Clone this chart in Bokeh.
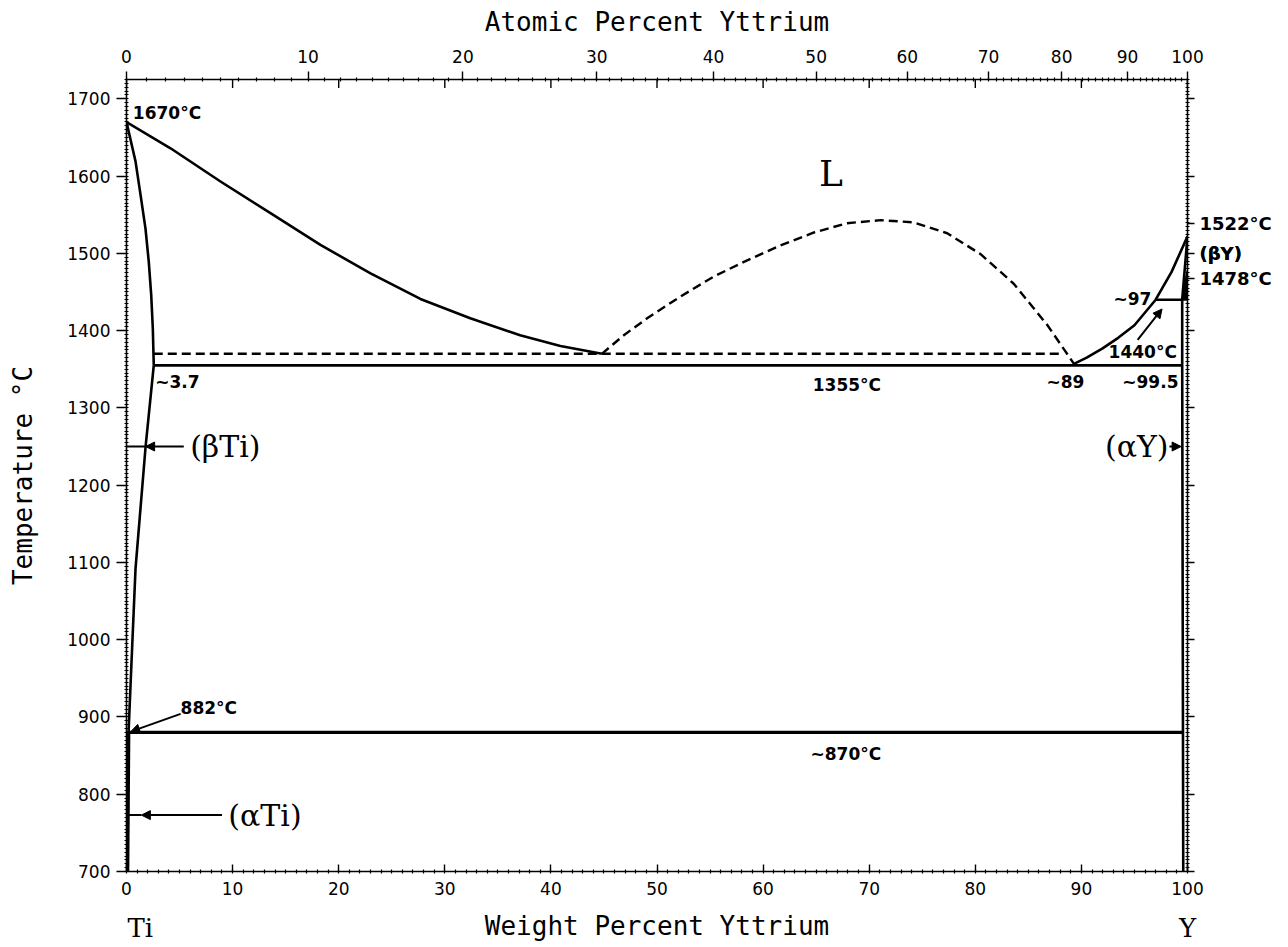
from bokeh.plotting import figure
from bokeh.models import LinearAxis, FixedTicker, Label, Arrow, NormalHead, Range1d
from bokeh.embed import file_html
from bokeh.resources import INLINE

# ---------------- data ----------------
# liquidus, Ti side
liq_left_wt = [0, 4.15, 8.86, 13.57, 18.28, 23.0, 27.7, 32.4, 37.1, 40.9, 44.8]
liq_left_T = [1670, 1636, 1593, 1552, 1511, 1474, 1441, 1416, 1394, 1380, 1370]
# (betaTi) solidus
sol_bti_wt = [0, 0.85, 1.32, 1.79, 2.1, 2.33, 2.48, 2.57]
sol_bti_T = [1670, 1619, 1576, 1532, 1489, 1446, 1403, 1355]
# (betaTi) solvus
solv_bti_wt = [2.57, 1.8, 0.85, 0.38, 0.2]
solv_bti_T = [1355, 1250, 1092, 941, 882]
# (alphaTi) boundary
ati_wt = [0.2, 0.1]
ati_T = [882, 700]
# eutectoid
eutectoid_wt = [0.2, 99.6]
eutectoid_T = [880, 880]
# eutectic
eutectic_wt = [2.57, 99.5]
eutectic_T = [1355, 1355]
# monotectic (dashed)
mono_wt = [2.57, 88.3]
mono_T = [1370, 1370]
# miscibility gap dome (dashed)
dome_wt = [44.8, 46.87, 49.07, 52.2, 55.35, 58.5, 61.6, 64.8, 67.9, 71.1, 74.2, 77.35,
           80.5, 83.6, 86.8, 88.3, 89.3]
dome_T = [1370, 1394, 1416, 1444, 1470, 1491, 1510, 1527, 1539, 1543, 1540, 1526,
          1499, 1461, 1407, 1377, 1357]
# liquidus, Y side
liq_right_wt = [89.3, 90.5, 92.0, 93.5, 95.0, 97.0, 98.5, 100]
liq_right_T = [1357, 1365, 1377, 1391, 1407, 1440, 1476, 1522]
# peritectic
perit_wt = [97.0, 99.5]
perit_T = [1440, 1440]
# (betaY) solidus
sol_by_wt = [99.5, 100]
sol_by_T = [1440, 1522]
# (betaY)+(alphaY) region
bay_wt = [99.5, 100, 100]
bay_T = [1440, 1440, 1478]
# (alphaY) solvus
solv_ay_wt = [99.5, 99.5, 99.6]
solv_ay_T = [1440, 1355, 700]

# axes
wt_ticks = [0, 10, 20, 30, 40, 50, 60, 70, 80, 90, 100]
wt_minor = list(range(0, 101))
at_ticks = [0, 10, 20, 30, 40, 50, 60, 70, 80, 90, 100]
at_labels = ["0", "10", "20", "30", "40", "50", "60", "70", "80", "90", "100"]
at_minor = list(range(0, 101))
T_ticks = [700, 800, 900, 1000, 1100, 1200, 1300, 1400, 1500, 1600, 1700]
T_minor = list(range(700, 1726, 5))

# labels beside the right edge (temperature, text)
right_label_T = [1538, 1500, 1467]
right_label_text = ["1522°C", "(βY)", "1478°C"]
# element labels under the bottom edge (wt%, text)
elem_wt = [1.3, 100]
elem_text = ["Ti", "Y"]

M_Y = 88.906
M_TI = 47.867


def at_to_wt(a):
    return round(100.0 * a * M_Y / (a * M_Y + (100 - a) * M_TI), 6)


at_pos = [at_to_wt(a) for a in at_ticks]
at_minor_pos = [at_to_wt(a) for a in at_minor]

# ---------------- figure ----------------
p = figure(width=1288, height=947, x_range=Range1d(0, 100), y_range=Range1d(700, 1725),
           output_backend="svg", toolbar_location=None,
           x_axis_location=None, y_axis_location=None,
           min_border_left=126, min_border_right=101, min_border_top=79, min_border_bottom=76)
p.grid.visible = False
p.outline_line_color = None
p.background_fill_color = "white"
p.border_fill_color = "white"

TICK_FONT = "DejaVu Sans"
TITLE_FONT = "DejaVu Sans Mono"
SERIF = "DejaVu Serif"


def style_axis(ax):
    ax.axis_line_width = 1.6
    ax.axis_line_color = "black"
    ax.major_tick_line_color = "black"
    ax.major_tick_line_width = 1.4
    ax.minor_tick_line_color = "black"
    ax.minor_tick_line_width = 1.2
    ax.minor_tick_in = 2
    ax.minor_tick_out = 2
    ax.major_label_text_font = TICK_FONT
    ax.major_label_text_font_size = "17px"
    ax.major_label_text_color = "black"
    ax.axis_label_text_font = TITLE_FONT
    ax.axis_label_text_font_size = "26px"
    ax.axis_label_text_font_style = "normal"
    ax.axis_label_text_color = "black"


bottom = LinearAxis(ticker=FixedTicker(ticks=wt_ticks, minor_ticks=wt_minor))
style_axis(bottom)
bottom.major_tick_in = 7
bottom.major_tick_out = 0
bottom.major_label_standoff = 8
p.add_layout(bottom, "below")

# second row under the bottom axis: element names and the axis title
elem_axis = LinearAxis(ticker=FixedTicker(ticks=elem_wt),
                       major_label_overrides={w: t for w, t in zip(elem_wt, elem_text)},
                       axis_label="Weight Percent Yttrium")
style_axis(elem_axis)
elem_axis.axis_line_color = None
elem_axis.major_tick_line_color = None
elem_axis.minor_tick_line_color = None
elem_axis.major_tick_in = 0
elem_axis.major_tick_out = 0
elem_axis.minor_tick_in = 0
elem_axis.minor_tick_out = 0
elem_axis.major_label_text_font = SERIF
elem_axis.major_label_text_font_size = "26px"
elem_axis.major_label_standoff = 15
elem_axis.axis_label_standoff = -35
p.add_layout(elem_axis, "below")

top = LinearAxis(ticker=FixedTicker(ticks=at_pos, minor_ticks=at_minor_pos),
                 axis_label="Atomic Percent Yttrium",
                 major_label_overrides={pos: lab for pos, lab in zip(at_pos, at_labels)})
style_axis(top)
top.major_tick_in = 0
top.major_tick_out = 8
top.major_label_standoff = 9
top.axis_label_standoff = 10
p.add_layout(top, "above")

left = LinearAxis(ticker=FixedTicker(ticks=T_ticks, minor_ticks=T_minor),
                  axis_label="Temperature °C")
style_axis(left)
left.major_tick_in = 0
left.major_tick_out = 10
left.major_label_standoff = 6
left.axis_label_standoff = 26
p.add_layout(left, "left")

overrides = {t: "" for t in T_ticks}
overrides.update({t: s for t, s in zip(right_label_T, right_label_text)})
right = LinearAxis(ticker=FixedTicker(ticks=T_ticks + right_label_T, minor_ticks=T_minor),
                   major_label_overrides=overrides)
style_axis(right)
right.major_tick_in = 0
right.major_tick_out = 7
right.major_label_standoff = 5
right.major_label_text_font_size = "18px"
right.major_label_text_font_style = "bold"
p.add_layout(right, "right")

# inward wt% ticks on the top edge
p.segment(x0=wt_ticks, y0=[1725] * len(wt_ticks), x1=wt_ticks, y1=[1714] * len(wt_ticks),
          line_color="black", line_width=1.4)

# ---------------- phase boundaries ----------------
LW = 2.6
for xs, ys in [(liq_left_wt, liq_left_T), (sol_bti_wt, sol_bti_T), (solv_bti_wt, solv_bti_T),
               (eutectic_wt, eutectic_T), (liq_right_wt, liq_right_T), (perit_wt, perit_T),
               (sol_by_wt, sol_by_T), (solv_ay_wt, solv_ay_T)]:
    p.line(xs, ys, line_color="black", line_width=LW, line_join="round")

p.line(eutectoid_wt, eutectoid_T, line_color="black", line_width=3.2)
p.line(ati_wt, ati_T, line_color="black", line_width=3.5)

for xs, ys in [(mono_wt, mono_T), (dome_wt, dome_T)]:
    p.line(xs, ys, line_color="black", line_width=2.4, line_dash="9 5", line_join="round")

p.patch(bay_wt, bay_T, fill_color="black", line_color="black", line_width=2)

# ---------------- annotations ----------------


def lab(x, y, text, font=TICK_FONT, size="17px", align="left", style="bold"):
    p.add_layout(Label(x=x, y=y, text=text, text_font=font, text_font_size=size,
                       text_align=align, text_baseline="middle", text_font_style=style,
                       text_color="black"))


lab(0.6, 1681, "1670°C")
lab(2.7, 1334, "~3.7")
lab(67.9, 1330, "1355°C", align="center")
lab(88.5, 1334, "~89", align="center")
lab(99.15, 1334, "~99.5", align="right")
lab(99.0, 1372, "1440°C", align="right")
lab(96.6, 1441, "~97", align="right")
lab(5.1, 911, "882°C")
lab(67.8, 852, "~870°C", align="center")

lab(66.4, 1603, "L", font=SERIF, size="36px", align="center", style="normal")
lab(6.0, 1250, "(βTi)", font=SERIF, size="30px", style="normal")
lab(9.6, 773, "(αTi)", font=SERIF, size="30px", style="normal")
lab(98.2, 1250, "(αY)", font=SERIF, size="30px", align="right", style="normal")


def arrow(x0, y0, x1, y1, size=9):
    p.add_layout(Arrow(end=NormalHead(size=size, fill_color="black", line_color="black"),
                       x_start=x0, y_start=y0, x_end=x1, y_end=y1,
                       line_color="black", line_width=2))


arrow(5.4, 1250, 1.8, 1250)
p.line([1.8, 0], [1250, 1250], line_color="black", line_width=2)
arrow(9.0, 773, 1.4, 773)
p.line([1.4, 0], [773, 773], line_color="black", line_width=2)
arrow(98.3, 1250, 99.4, 1250)
arrow(95.3, 1388, 97.6, 1428)
arrow(5.1, 904, 0.4, 881)

open("out.html", "w").write(file_html(p, INLINE))
